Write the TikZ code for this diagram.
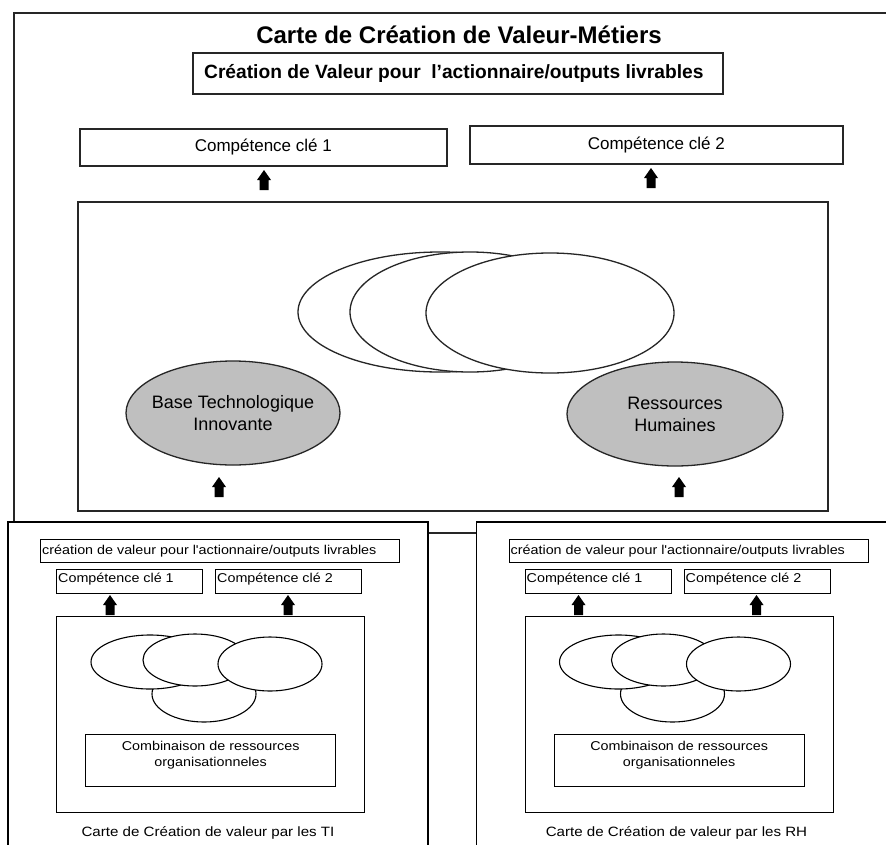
\documentclass[tikz,border=0pt]{standalone}
\usepackage{fontspec}
\setmainfont{Liberation Sans}
\newfontfamily\panelfont[FakeStretch=1.12]{Liberation Sans}
\usetikzlibrary{shapes.geometric}
\begin{document}
\begin{tikzpicture}[x=1pt,y=-1pt,
  mainline/.style={draw=black!85,line width=1.6pt},
  panelline/.style={draw=black,line width=1.3pt},
  box/.style={mainline,fill=white,inner sep=0pt,anchor=north west},
  pbox/.style={panelline,fill=white,inner sep=0pt,anchor=north west},
  cloud/.style={mainline,fill=white,line width=1.3pt},
  pcloud/.style={panelline,fill=white,line width=1.1pt},
  resource/.style={mainline,fill=black!25,line width=1.3pt},
  comptext/.style={font=\fontsize{17}{20}\selectfont},
  ptext/.style={font=\panelfont\fontsize{12.8}{16}\selectfont,inner sep=0pt},
  blockarrow/.pic={\fill[black] (-4.5,0) -- (-4.5,-10) -- (-7,-10) -- (0,-20) -- (7,-10) -- (4.5,-10) -- (4.5,0) -- cycle;}
]
\useasboundingbox (0,0) rectangle (886,844);
\clip (0,0) rectangle (886,844);
\fill[white] (0,0) rectangle (886,844);

% --- business value map ---
\draw[mainline] (14,13) rectangle (910,533);
\node[font=\bfseries\fontsize{24}{28}\selectfont] (title) at (459,35) {Carte de Création de Valeur-Métiers};
\node[box,minimum width=530pt,minimum height=41pt] (sub) at (192,52) {};
\node[font=\bfseries\fontsize{19.2}{23}\selectfont] (subtxt) at ([xshift=-4pt]sub.center) {Création de Valeur pour\ \ l’actionnaire/outputs livrables};

\node[box,minimum width=367pt,minimum height=37pt] (ck1) at (79,128) {};
\node[comptext] at (ck1.center) {Compétence clé 1};
\node[box,minimum width=373pt,minimum height=38pt] (ck2) at (469,125) {};
\node[comptext] at (ck2.center) {Compétence clé 2};

\node[box,minimum width=750pt,minimum height=309pt] (core) at (77,201) {};
\pic at (264,190) {blockarrow};
\pic at (651,188) {blockarrow};

% overlapping resource clouds
\draw[cloud] (440,312) ellipse [x radius=142, y radius=60];
\draw[cloud] (470,312) ellipse [x radius=120, y radius=60];
\draw[cloud] (550,313) ellipse [x radius=124, y radius=60];

\node[resource,ellipse,minimum width=214pt,minimum height=104pt,inner sep=0pt] (tech) at (233,413) {};
\node[font=\fontsize{18}{22}\selectfont,align=center] at (tech.center) {Base Technologique\\Innovante};
\node[resource,ellipse,minimum width=216pt,minimum height=104pt,inner sep=0pt] (rh) at (675,414) {};
\node[font=\fontsize{18}{22}\selectfont,align=center] at (rh.center) {Ressources\\Humaines};

\pic at (219,497) {blockarrow};
\pic at (679,497) {blockarrow};

% --- IT and HR value maps ---
\foreach \dx/\tag/\who in {0/ti/TI, 468.5/rh/RH}{
  \begin{scope}[xshift=\dx pt]
    \draw[panelline,fill=white] (8,522) rectangle (428,900);
    \node[pbox,minimum width=359pt,minimum height=23pt] (sub-\tag) at (40,539) {};
    \node[ptext,anchor=west] at ([xshift=2pt]sub-\tag.west) {création de valeur pour l'actionnaire/outputs livrables};
    \node[pbox,minimum width=146pt,minimum height=24pt] (cka-\tag) at (56,569) {};
    \node[ptext,anchor=north west] at ([shift={(2pt,-4pt)}]cka-\tag.north west) {Compétence clé 1};
    \node[pbox,minimum width=146pt,minimum height=24pt] (ckb-\tag) at (215,569) {};
    \node[ptext,anchor=north west] at ([shift={(2pt,-4pt)}]ckb-\tag.north west) {Compétence clé 2};
    \node[pbox,minimum width=308pt,minimum height=196pt] (core-\tag) at (56,616) {};
    \pic at (110,615) {blockarrow};
    \pic at (288,615) {blockarrow};
    \draw[pcloud] (204,694) ellipse [x radius=52, y radius=28];
    \draw[pcloud] (150,662) ellipse [x radius=59, y radius=27];
    \draw[pcloud] (195,660) ellipse [x radius=52, y radius=26];
    \draw[pcloud] (270,664) ellipse [x radius=52, y radius=27];
    \node[pbox,minimum width=250pt,minimum height=52pt] (comb-\tag) at (85,734) {};
    \node[ptext,align=center,anchor=north] at ([yshift=-7pt]comb-\tag.north) {Combinaison de ressources\\organisationneles};
    \node[ptext,font=\panelfont\fontsize{13.5}{16}\selectfont] (cap-\tag) at (208,833) {Carte de Création de valeur par les \who};
  \end{scope}
}
\end{tikzpicture}
\end{document}
